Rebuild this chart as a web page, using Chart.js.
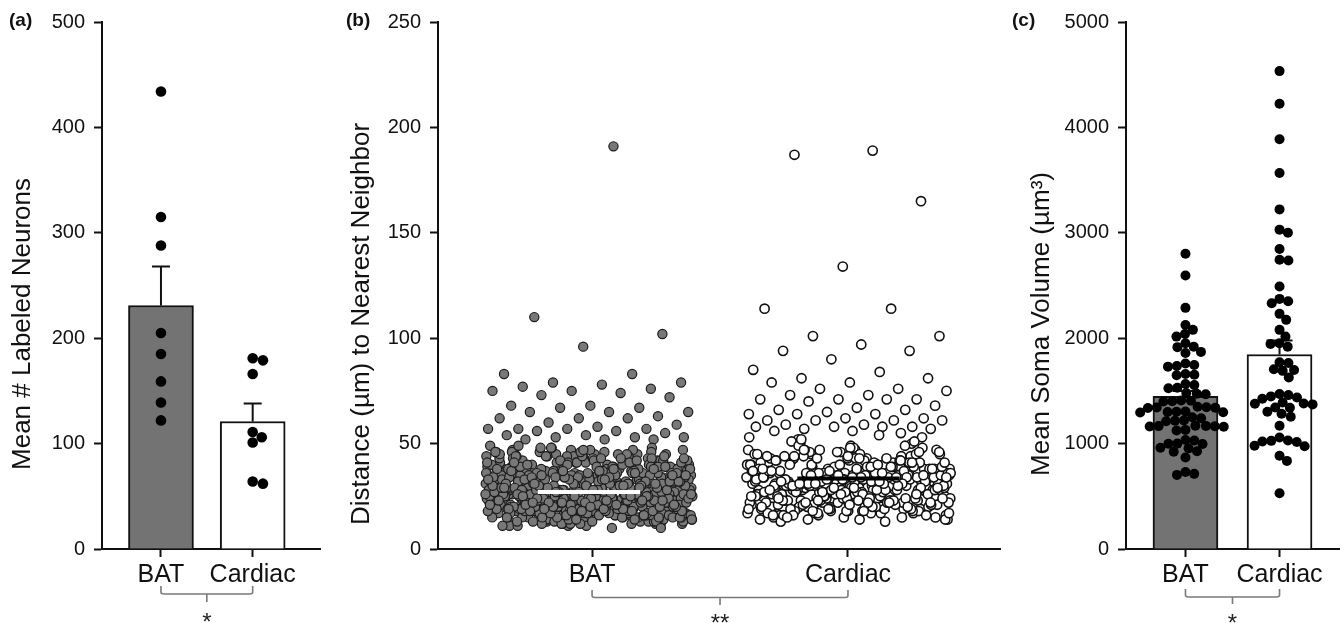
<!DOCTYPE html>
<html>
<head>
<meta charset="utf-8">
<script src="https://cdn.jsdelivr.net/npm/chart.js@4.4.1/dist/chart.umd.min.js"></script>
<style>
html,body{margin:0;padding:0;background:#fff;}
#wrap{position:relative;width:1344px;height:623px;overflow:hidden;background:#fff;}
#wrap canvas{position:absolute;left:0;top:0;pointer-events:none;}
</style>
</head>
<body>
<div id="wrap">
<canvas id="ca" width="1344" height="623"></canvas>
<canvas id="cb" width="1344" height="623"></canvas>
<canvas id="cc" width="1344" height="623"></canvas>
</div>
<script>
// ---------------- DATA ----------------
const categories = ['BAT', 'Cardiac'];

// Panel (a): Mean # labeled neurons
const neuronMeans = [231, 121];
const neuronSEM = [37, 17];
const neuronsBAT = [434, 315, 288, 205, 185, 159, 139, 122];
const neuronsCardiac = [181, 179, 166, 111, 106, 101, 64, 62];

// Panel (b): distance to nearest neighbor (um)
const distBAT = [191, 110, 102, 96, 83, 83, 79, 79, 78, 77, 76, 75, 75, 74, 73, 72, 68, 68, 67, 67,
  65, 65, 65, 63, 62, 62, 62, 60, 59, 58, 57, 57, 57, 57, 56, 56, 55, 54, 54, 53, 53, 53, 52, 52, 52,
  24, 17, 31, 13, 28, 20, 42, 15, 26, 35, 19, 22, 12, 29, 38, 16, 25, 33, 18, 21,
  27, 14, 30, 23, 46, 17, 26, 11, 34, 20, 24, 40, 15, 28, 19, 36, 22, 13, 31, 25,
  18, 29, 16, 44, 21, 26, 14, 32, 23, 19, 37, 12, 27, 24, 48, 17, 30, 20, 15, 33,
  22, 26, 13, 39, 25, 18, 28, 16, 43, 21, 31, 14, 24, 35, 19, 27, 11, 23, 30, 17,
  20, 34, 15, 25, 41, 22, 18, 29, 13, 26, 36, 16, 23, 32, 19, 45, 21, 28, 14, 24,
  30, 17, 22, 38, 12, 27, 20, 33, 15, 25, 47, 18, 29, 23, 16, 35, 21, 26, 13, 31,
  19, 24, 42, 14, 28, 22, 17, 34, 26, 11, 30, 20, 39, 16, 25, 23, 15, 37, 21, 27,
  13, 32, 18, 26, 44, 20, 15, 29, 24, 17, 36, 22, 12, 27, 19, 40, 25, 14, 31, 23,
  16, 28, 21, 35, 13, 24, 49, 18, 30, 22, 15, 26, 33, 20, 17, 38, 23, 12, 29, 25,
  21, 14, 27, 19, 43, 24, 16, 31, 22, 18, 34, 13, 26, 20, 37, 15, 28, 23, 46, 17,
  25, 30, 12, 22, 18, 39, 26, 15, 33, 20, 24, 14, 29, 41, 17, 23, 19, 35, 27, 16,
  14, 23, 32, 19, 26, 11, 28, 21, 45, 17, 25, 30, 13, 36, 22, 18, 27, 15, 24, 42,
  20, 16, 29, 24, 13, 34, 18, 26, 22, 48, 15, 31, 19, 27, 12, 23, 38, 17, 25, 21,
  28, 15, 22, 37, 19, 25, 14, 30, 17, 23, 44, 20, 26, 13, 32, 18, 24, 16, 35, 29,
  17, 26, 20, 13, 31, 23, 40, 16, 27, 21, 15, 33, 24, 18, 47, 22, 12, 28, 19, 36,
  23, 12, 35, 18, 27, 21, 16, 29, 43, 14, 25, 19, 32, 22, 17, 38, 26, 15, 30, 20,
  33, 26, 41, 19, 29, 37, 23, 45, 28, 16, 34, 25, 39, 21, 31, 44, 27, 18, 36, 24,
  29, 42, 22, 35, 15, 30, 38, 26, 47, 20, 33, 28, 40, 17, 25, 36, 31, 43, 23, 27,
  38, 21, 32, 27, 44, 18, 30, 36, 24, 41, 29, 14, 34, 26, 46, 22, 39, 28, 33, 19,
  25, 35, 43, 20, 31, 28, 16, 37, 26, 42, 23, 33, 29, 48, 21, 36, 27, 40, 18, 32,
  30, 17, 39, 24, 34, 45, 27, 22, 36, 29, 13, 41, 26, 32, 19, 38, 25, 44, 31, 23,
  36, 28, 20, 42, 33, 25, 47, 30, 18, 37, 27, 43, 22, 34, 29, 15, 39, 24, 46, 31,
  22, 40, 31, 26, 15, 35, 29, 44, 21, 38, 32, 25, 17, 41, 28, 36, 23, 45, 30, 19,
  41, 27, 34, 18, 38, 23, 30, 46, 26, 33, 20, 42, 29, 36, 24, 14, 39, 31, 27, 44,
  26, 37, 19, 32, 43, 28, 35, 21, 40, 30, 48, 24, 33, 17, 38, 27, 42, 22, 35, 29,
  34, 23, 45, 29, 20, 39, 26, 32, 16, 41, 35, 28, 44, 22, 31, 37, 25, 47, 19, 33,
  18, 31, 27, 40, 24, 36, 13, 43, 30, 22, 38, 26, 34, 20, 46, 29, 41, 17, 32, 37,
  39, 25, 33, 21, 45, 30, 28, 36, 19, 42, 27, 35, 23, 40, 31, 14, 38, 26, 44, 21,
  28, 44, 16, 34, 26, 38, 31, 23, 47, 29, 36, 20, 41, 33, 25, 39, 18, 30, 43, 35,
  32, 20, 37, 29, 42, 24, 34, 18, 39, 27, 45, 31, 22, 36, 28, 49, 25, 40, 33, 21,
  24, 39, 30, 15, 36, 27, 43, 33, 21, 38, 25, 46, 30, 19, 35, 28, 41, 23, 37, 26,
  10, 22, 10, 18, 11, 25];
const distCardiac = [189, 187, 165, 134, 114, 114, 101, 101, 97, 94, 94, 90, 85, 84, 81, 81, 79, 79,
  76, 76, 75, 73, 73, 71, 71, 71, 71, 70, 68, 67, 66, 66, 65, 64, 64, 64, 62, 62, 61, 61, 61, 61,
  59, 59, 58, 58, 58, 58, 57, 57, 56, 56, 55,
  22, 35, 17, 28, 41, 31, 19, 26, 45, 33, 14, 29, 38, 24, 21, 32, 50, 27, 18, 36,
  30, 16, 25, 43, 32, 20, 37, 28, 13, 34, 23, 47, 31, 19, 26, 40, 22, 29, 53, 15,
  27, 39, 21, 32, 18, 30, 44, 24, 35, 17, 28, 31, 49, 20, 36, 26, 14, 33, 42, 23,
  31, 19, 29, 46, 25, 34, 16, 30, 38, 22, 27, 52, 32, 18, 41, 28, 24, 35, 20, 30,
  17, 33, 26, 40, 29, 21, 48, 31, 15, 36, 24, 30, 43, 19, 27, 34, 22, 39, 28, 32,
  25, 37, 18, 31, 54, 23, 29, 42, 20, 33, 27, 16, 35, 30, 45, 22, 26, 32, 14, 38,
  29, 21, 34, 24, 47, 31, 19, 28, 36, 26, 41, 17, 30, 33, 23, 50, 27, 32, 20, 44,
  32, 26, 15, 39, 28, 22, 35, 30, 18, 46, 25, 31, 37, 21, 29, 13, 34, 27, 40, 24,
  20, 30, 43, 27, 33, 17, 29, 38, 23, 51, 31, 26, 19, 36, 28, 32, 42, 22, 25, 34,
  28, 18, 32, 24, 37, 30, 21, 45, 27, 16, 33, 29, 39, 25, 31, 20, 48, 26, 35, 23,
  31, 25, 19, 34, 29, 41, 22, 30, 15, 27, 36, 24, 32, 53, 20, 28, 38, 26, 17, 33,
  36, 24, 42, 30, 18, 39, 33, 27, 47, 21, 35, 29, 44, 25, 38, 32, 16, 41, 28, 34,
  23, 40, 31, 45, 26, 35, 19, 37, 29, 50, 33, 22, 43, 28, 36, 14, 39, 31, 24, 46,
  38, 28, 20, 34, 43, 25, 37, 31, 17, 41, 27, 48, 33, 22, 39, 30, 35, 26, 44, 19,
  27, 45, 33, 21, 38, 29, 16, 42, 32, 36, 24, 51, 28, 40, 20, 34, 30, 47, 23, 37,
  34, 19, 40, 28, 49, 32, 24, 37, 21, 43, 30, 35, 15, 39, 26, 45, 31, 22, 38, 29,
  42, 31, 25, 36, 20, 44, 29, 33, 27, 39, 18, 46, 34, 23, 41, 28, 37, 32, 52, 26,
  21, 37, 30, 47, 34, 22, 40, 26, 35, 14, 43, 31, 28, 38, 24, 49, 33, 19, 36, 30,
  35, 27, 44, 23, 31, 39, 18, 33, 41, 29, 25, 36, 47, 22, 34, 30, 42, 27, 17, 39,
  30, 46, 26, 38, 22, 35, 29, 43, 32, 20, 37, 25, 40, 31, 16, 44, 28, 34, 23, 41];
const distMedians = [27, 33.5];

// Panel (c): mean soma volume (um^3)
const somaMeans = [1449, 1845];
const somaSEM = [50, 132];
const somaBAT = [2801, 2595, 2288, 2126, 2079, 2040, 2015, 1952, 1920, 1915, 1870, 1860, 1760, 1745,
  1737, 1730, 1660, 1654, 1648, 1565, 1555, 1530, 1525, 1480, 1473, 1468, 1410, 1407, 1402, 1400,
  1350, 1343, 1340, 1345, 1338, 1305, 1302, 1298, 1300, 1295, 1250, 1240, 1220, 1217, 1212, 1170,
  1166, 1163, 1168, 1160, 1165, 1130, 1125, 1035, 1030, 1000, 996, 998, 960, 955, 928, 922, 868,
  730, 713, 703];
const somaCardiac = [4534, 4224, 3888, 3568, 3222, 3030, 3001, 2846, 2745, 2738, 2490, 2373, 2351,
  2332, 2231, 2174, 2079, 2015, 1952, 1945, 1920, 1771, 1765, 1699, 1705, 1690, 1628, 1470, 1460,
  1448, 1437, 1425, 1390, 1381, 1378, 1372, 1343, 1340, 1302, 1283, 1255, 1169, 1058, 1030, 1026,
  1020, 1015, 979, 975, 884, 836, 529];

// ---------------- STYLE / HELPERS ----------------
const FONT = "'Liberation Sans', Arial, Helvetica, sans-serif";
Chart.defaults.font.family = FONT;
Chart.defaults.color = '#111';
const INK = '#111';

function axisX(min, max) {
  return {
    type: 'linear', min: min, max: max, offset: false,
    afterBuildTicks: ax => { ax.ticks = categories.map((c, i) => ({ value: i + 1 })); },
    afterFit: ax => { ax.height = 74; },
    ticks: { callback: v => categories[Math.round(v) - 1], font: { size: 25 }, color: INK,
      padding: 3, maxRotation: 0, autoSkip: false },
    grid: { drawOnChartArea: false, drawTicks: true, tickLength: 8, tickColor: INK, tickWidth: 2, offset: false },
    border: { display: true, color: INK, width: 2 }
  };
}
function axisY(max, step, width) {
  return {
    type: 'linear', min: 0, max: max,
    afterFit: ax => { ax.width = width; },
    ticks: { stepSize: step, callback: v => String(v), font: { size: 20 }, color: INK, padding: 9 },
    grid: { drawOnChartArea: false, drawTicks: true, tickLength: 8, tickColor: INK, tickWidth: 2 },
    border: { display: true, color: INK, width: 2 }
  };
}

// beeswarm layout (pixel based) for dot columns
function swarm(values, center, chart, diam) {
  const ys = chart.scales.y, xs = chart.scales.x;
  const ppu = xs.getPixelForValue(2) - xs.getPixelForValue(1);
  const items = values.map(v => ({ v: v, py: ys.getPixelForValue(v), dx: 0 }));
  const order = items.slice().sort((a, b) => a.py - b.py);
  const placed = [];
  const d2 = diam * diam;
  for (const it of order) {
    const cands = [0];
    for (const p of placed) {
      const dy = Math.abs(p.py - it.py);
      if (dy < diam) {
        const dx = Math.sqrt(d2 - dy * dy);
        cands.push(p.dx + dx, p.dx - dx);
      }
    }
    cands.sort((a, b) => Math.abs(a) - Math.abs(b));
    for (const c of cands) {
      if (placed.every(p => (p.dx - c) * (p.dx - c) + (p.py - it.py) * (p.py - it.py) >= d2 - 0.01)) {
        it.dx = c; break;
      }
    }
    placed.push(it);
  }
  return items.map(it => ({ x: center + it.dx / ppu, y: it.v }));
}

// even low-discrepancy horizontal spread for dense scatter columns
function spread(values, center, half) {
  const g = 0.6180339887;
  return values.map((v, i) => ({ x: center + ((((i + 1) * g) % 1) - 0.5) * 2 * half, y: v }));
}

const deco = {
  id: 'deco',
  beforeDatasetDraw(chart, args, o) {
    if (!o || !o.errors) return;
    const ds = chart.data.datasets[args.index];
    if (ds.type !== 'scatter') return;
    const ctx = chart.ctx, xs = chart.scales.x, ys = chart.scales.y;
    ctx.save();
    ctx.strokeStyle = INK; ctx.lineWidth = 2;
    o.errors.means.forEach((m, i) => {
      const x = xs.getPixelForValue(i + 1);
      const y1 = ys.getPixelForValue(m), y2 = ys.getPixelForValue(m + o.errors.sems[i]);
      ctx.beginPath();
      ctx.moveTo(x, y1); ctx.lineTo(x, y2);
      ctx.moveTo(x - o.errors.cap / 2, y2); ctx.lineTo(x + o.errors.cap / 2, y2);
      ctx.stroke();
    });
    ctx.restore();
  },
  afterDatasetsDraw(chart, args, o) {
    if (!o || !o.medians) return;
    const ctx = chart.ctx, xs = chart.scales.x, ys = chart.scales.y;
    ctx.save();
    ctx.lineWidth = 4;
    o.medians.values.forEach((m, i) => {
      const y = ys.getPixelForValue(m);
      ctx.strokeStyle = o.medians.colors[i];
      ctx.beginPath();
      ctx.moveTo(xs.getPixelForValue(o.medians.centers[i] - o.medians.half), y);
      ctx.lineTo(xs.getPixelForValue(o.medians.centers[i] + o.medians.half), y);
      ctx.stroke();
    });
    ctx.restore();
  },
  afterDraw(chart, args, o) {
    if (!o) return;
    const ctx = chart.ctx, xs = chart.scales.x, ca = chart.chartArea;
    ctx.save();
    if (o.label) {
      ctx.fillStyle = INK;
      ctx.font = 'bold 19px ' + FONT;
      ctx.textAlign = 'left'; ctx.textBaseline = 'middle';
      ctx.fillText(o.label, o.labelX, 21);
    }
    if (o.yTitle) {
      ctx.save();
      ctx.translate(ca.left + o.titleDX, ca.bottom - 225);
      ctx.rotate(-Math.PI / 2);
      ctx.fillStyle = INK;
      ctx.font = '26px ' + FONT;
      ctx.textAlign = 'center'; ctx.textBaseline = 'middle';
      ctx.fillText(o.yTitle, 0, 0);
      ctx.restore();
    }
    if (o.bracket) {
      const b = o.bracket;
      const x1 = xs.getPixelForValue(1), x2 = xs.getPixelForValue(2), xm = (x1 + x2) / 2;
      const yH = ca.bottom + b.yH, yE = ca.bottom + b.yEnd, yM = ca.bottom + b.yMid;
      ctx.strokeStyle = '#7a7a7a'; ctx.lineWidth = 1.6;
      ctx.beginPath();
      ctx.moveTo(x1, yE); ctx.lineTo(x1, yH - 2); ctx.quadraticCurveTo(x1, yH, x1 + 3, yH);
      ctx.lineTo(x2 - 3, yH); ctx.quadraticCurveTo(x2, yH, x2, yH - 2); ctx.lineTo(x2, yE);
      ctx.moveTo(xm, yH); ctx.lineTo(xm, yM);
      ctx.stroke();
      ctx.fillStyle = '#222';
      ctx.font = '24px ' + FONT;
      ctx.textAlign = 'center'; ctx.textBaseline = 'alphabetic';
      ctx.fillText(b.star, xm, ca.bottom + b.starY);
    }
    ctx.restore();
  }
};
Chart.register(deco);

const common = { responsive: false, animation: false, devicePixelRatio: 1, events: [] };

// ---------------- PANEL A ----------------
const chartA = new Chart(document.getElementById('ca'), {
  type: 'bar',
  data: {
    datasets: [
      { type: 'scatter', data: [], pointRadius: 5.3, pointHoverRadius: 5.3, backgroundColor: '#000',
        borderColor: '#000', borderWidth: 0, order: 0 },
      { type: 'bar', data: neuronMeans.map((m, i) => ({ x: i + 1, y: m })), barThickness: 65,
        backgroundColor: ['#737373', '#ffffff'], borderColor: INK, borderWidth: 2,
        borderSkipped: 'bottom', order: 1 }
    ]
  },
  options: Object.assign({}, common, {
    layout: { padding: { top: 22, left: 0, right: 1344 - 320, bottom: 0 } },
    scales: { x: axisX(0.357, 2.734), y: axisY(500, 100, 102) },
    plugins: {
      legend: { display: false }, tooltip: { enabled: false },
      deco: { label: '(a)', labelX: 9, yTitle: 'Mean # Labeled Neurons', titleDX: -79,
        errors: { means: neuronMeans, sems: neuronSEM, cap: 18 },
        bracket: { yH: 45, yEnd: 37, yMid: 53, star: '*', starY: 81 } }
    }
  })
});
chartA.data.datasets[0].data = swarm(neuronsBAT, 1, chartA, 10.5).concat(swarm(neuronsCardiac, 2, chartA, 10.5));
chartA.update('none');

// ---------------- PANEL B ----------------
const chartB = new Chart(document.getElementById('cb'), {
  type: 'scatter',
  data: {
    datasets: [
      { data: spread(distBAT, 0.988, 0.405), pointRadius: 4.6, backgroundColor: '#787878',
        borderColor: '#1c1c1c', borderWidth: 1.2 },
      { data: spread(distCardiac, 2.002, 0.40), pointRadius: 4.6, backgroundColor: '#ffffff',
        borderColor: '#111', borderWidth: 1.6 }
    ]
  },
  options: Object.assign({}, common, {
    layout: { padding: { top: 22, left: 0, right: 1344 - 1000, bottom: 0 } },
    scales: { x: axisX(0.398, 2.594), y: axisY(250, 50, 438) },
    plugins: {
      legend: { display: false }, tooltip: { enabled: false },
      deco: { label: '(b)', labelX: 346, yTitle: 'Distance (µm) to Nearest Neighbor', titleDX: -76,
        medians: { values: distMedians, centers: [0.988, 2.002], half: 0.2, colors: ['#ffffff', '#000000'] },
        bracket: { yH: 48.5, yEnd: 41, yMid: 56, star: '**', starY: 82 } }
    }
  })
});

// ---------------- PANEL C ----------------
const chartC = new Chart(document.getElementById('cc'), {
  type: 'bar',
  data: {
    datasets: [
      { type: 'scatter', data: [], pointRadius: 5, pointHoverRadius: 5, backgroundColor: '#000',
        borderColor: '#000', borderWidth: 0, order: 0 },
      { type: 'bar', data: somaMeans.map((m, i) => ({ x: i + 1, y: m })), barThickness: 65,
        backgroundColor: ['#737373', '#ffffff'], borderColor: INK, borderWidth: 2,
        borderSkipped: 'bottom', order: 1 }
    ]
  },
  options: Object.assign({}, common, {
    layout: { padding: { top: 22, left: 0, right: 3, bottom: 0 } },
    scales: { x: axisX(0.368, 2.632), y: axisY(5000, 1000, 1126) },
    plugins: {
      legend: { display: false }, tooltip: { enabled: false },
      deco: { label: '(c)', labelX: 1012, yTitle: 'Mean Soma Volume (µm³)', titleDX: -84,
        errors: { means: somaMeans, sems: somaSEM, cap: 26 },
        bracket: { yH: 48, yEnd: 40, yMid: 55, star: '*', starY: 82 } }
    }
  })
});
chartC.data.datasets[0].data = swarm(somaBAT, 1, chartC, 9).concat(swarm(somaCardiac, 2, chartC, 9));
chartC.update('none');
</script>
</body>
</html>
